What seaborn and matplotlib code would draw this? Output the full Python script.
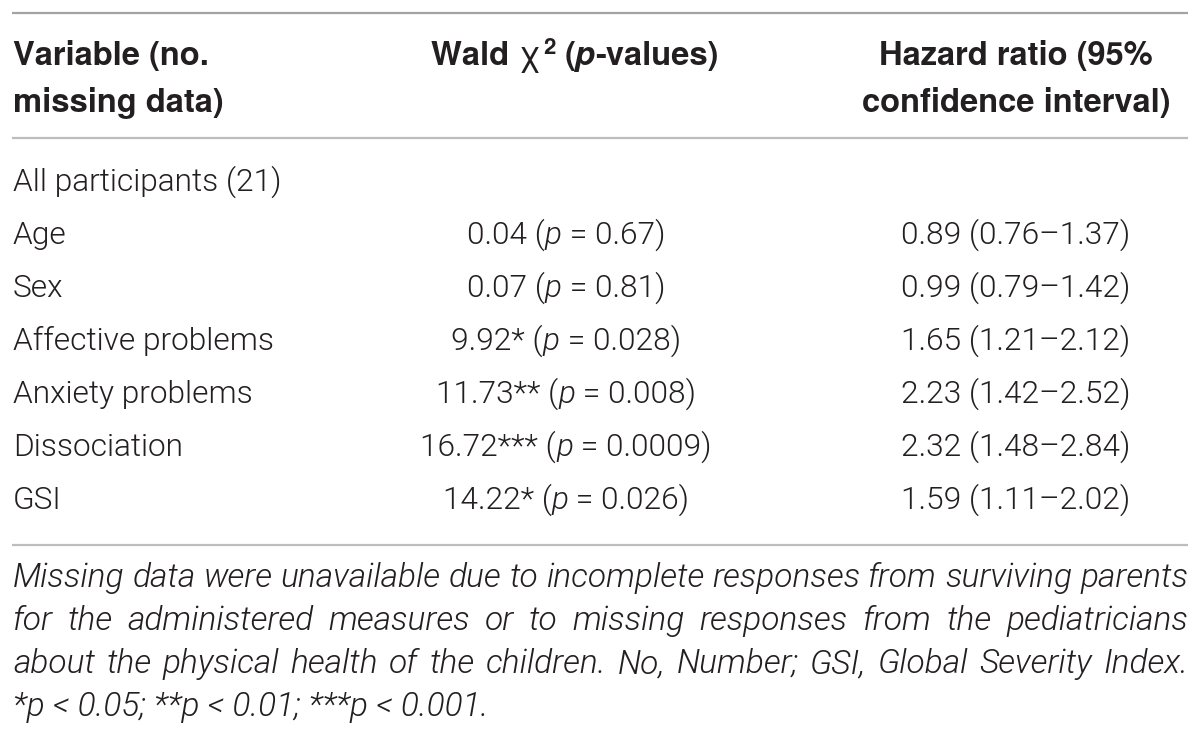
import matplotlib
matplotlib.use("Agg")
import matplotlib.pyplot as plt
import seaborn as sns

# ---------------- data ----------------
variables = ["All participants (21)", "Age", "Sex", "Affective problems",
             "Anxiety problems", "Dissociation", "GSI"]
wald_chi2 = [None, "0.04", "0.07", "9.92", "11.73", "16.72", "14.22"]
wald_stars = ["", "", "", "*", "**", "***", "*"]
wald_p = [None, "0.67", "0.81", "0.028", "0.008", "0.0009", "0.026"]
hazard = [None, "0.89", "0.99", "1.65", "2.23", "2.32", "1.59"]
ci_low = [None, "0.76", "0.79", "1.21", "1.42", "1.48", "1.11"]
ci_high = [None, "1.37", "1.42", "2.12", "2.52", "2.84", "2.02"]

header_col1 = ["Variable (no.", "missing data)"]
header_col3 = ["Hazard ratio (95%", "confidence interval)"]

footnote_lines = [
    "Missing data were unavailable due to incomplete responses from surviving parents",
    "for the administered measures or to missing responses from the pediatricians",
    "about the physical health of the children. No, Number; GSI, Global Severity Index.",
]
footnote_last = "*p < 0.05; **p < 0.01; ***p < 0.001."

# ---------------- style ----------------
sns.set_theme(style="white")
plt.rcParams["font.family"] = ["Roboto", "DejaVu Sans"]

TXT = "#231f20"
RULE = "#a3a3a3"
BODY = dict(family=["Roboto", "DejaVu Sans"], weight=300, color=TXT)
BODY_IT = dict(family=["Roboto", "DejaVu Sans"], weight=300, style="italic", color=TXT)
HEAD = dict(family=["TeX Gyre Heros", "Liberation Sans", "DejaVu Sans"], weight="bold", color=TXT)
HEAD_IT = dict(family=["TeX Gyre Heros", "Liberation Sans", "DejaVu Sans"], weight="bold", style="italic", color=TXT)
CHI = dict(family=["TeX Gyre Heros", "DejaVu Sans"], weight="normal", color=TXT)
FOOT = dict(family=["Roboto", "DejaVu Sans"], weight=300, style="italic", color=TXT)

W, H = 1200, 735
fig = plt.figure(figsize=(W / 100, H / 100), dpi=100)
ax = fig.add_axes([0, 0, 1, 1])
ax.set_xlim(0, W)
ax.set_ylim(H, 0)
ax.axis("off")
renderer = fig.canvas.get_renderer()


def width(s, size, st):
    t1 = ax.text(0, 0, "|" + s + "|", fontsize=size, **st)
    t2 = ax.text(0, 0, "||", fontsize=size, **st)
    w = t1.get_window_extent(renderer).width - t2.get_window_extent(renderer).width
    t1.remove(); t2.remove()
    return w


def fit(s, target, st):
    return 20 * target / width(s, 20, st)


def runs(x, y, parts, ha="left"):
    """parts: list of (text, size, style, dy)"""
    ws = [width(p[0], p[1], p[2]) for p in parts]
    tot = sum(ws)
    if ha == "center":
        x = x - tot / 2
    elif ha == "right":
        x = x - tot
    for (s, size, st, dy), w in zip(parts, ws):
        ax.text(x, y - dy, s, fontsize=size, va="baseline", ha="left", **st)
        x += w


# font sizes fitted to reference widths
fs_body = fit("All participants (21)", 269, BODY)
fs_head = fit("Variable (no.", 196, HEAD)
fs_foot = fit(footnote_lines[0], 1174, FOOT)

X_LEFT = 13
X_RIGHT = 1188
X_COL2 = 566
X_COL3 = 1016

# ---------------- rules ----------------
rule_y = [13, 138, 545]
ax.hlines(rule_y, 12, 1188, colors=[RULE, "#bdbdbd", "#bdbdbd"], linewidth=1.6)

# ---------------- header ----------------
head_base = [65, 112]
for s, yb in zip(header_col1, head_base):
    ax.text(X_LEFT, yb, s, fontsize=fs_head, va="baseline", ha="left", **HEAD)
for s, yb in zip(header_col3, head_base):
    ax.text(X_COL3, yb, s, fontsize=fs_head, va="baseline", ha="center", **HEAD)
runs(575, head_base[0], [
    ("Wald ", fs_head, HEAD, 0),
    ("χ", fs_head * 1.05, CHI, 0),
    (" ", fs_head * 0.3, HEAD, 0),
    ("2", fs_head * 0.68, HEAD, 11),
    (" (", fs_head, HEAD, 0),
    ("p", fs_head, HEAD_IT, 0),
    ("-values)", fs_head, HEAD, 0),
], ha="center")

# ---------------- body ----------------
row_base = [191, 244, 297, 350, 403, 456, 509]
for i, name in enumerate(variables):
    yb = row_base[i]
    ax.text(X_LEFT, yb, name, fontsize=fs_body, va="baseline", ha="left", **BODY)
    if wald_chi2[i] is not None:
        runs(X_COL2, yb, [
            (wald_chi2[i] + wald_stars[i] + " (", fs_body, BODY, 0),
            ("p", fs_body, BODY_IT, 0),
            (" = " + wald_p[i] + ")", fs_body, BODY, 0),
        ], ha="center")
    if hazard[i] is not None:
        ax.text(X_COL3, yb, f"{hazard[i]} ({ci_low[i]}–{ci_high[i]})",
                fontsize=fs_body, va="baseline", ha="center", **BODY)

# ---------------- footnote (justified) ----------------
foot_base = [587, 630, 673, 716]
for line, yb in zip(footnote_lines, foot_base):
    words = line.split(" ")
    ws = [width(w_, fs_foot, FOOT) for w_ in words]
    gap = (X_RIGHT - X_LEFT - sum(ws)) / (len(words) - 1)
    x = X_LEFT
    for w_, wd in zip(words, ws):
        ax.text(x, yb, w_, fontsize=fs_foot, va="baseline", ha="left", **FOOT)
        x += wd + gap
ax.text(X_LEFT, foot_base[3], footnote_last, fontsize=fs_foot, va="baseline", ha="left", **FOOT)

fig.savefig("out.png", dpi=100)
